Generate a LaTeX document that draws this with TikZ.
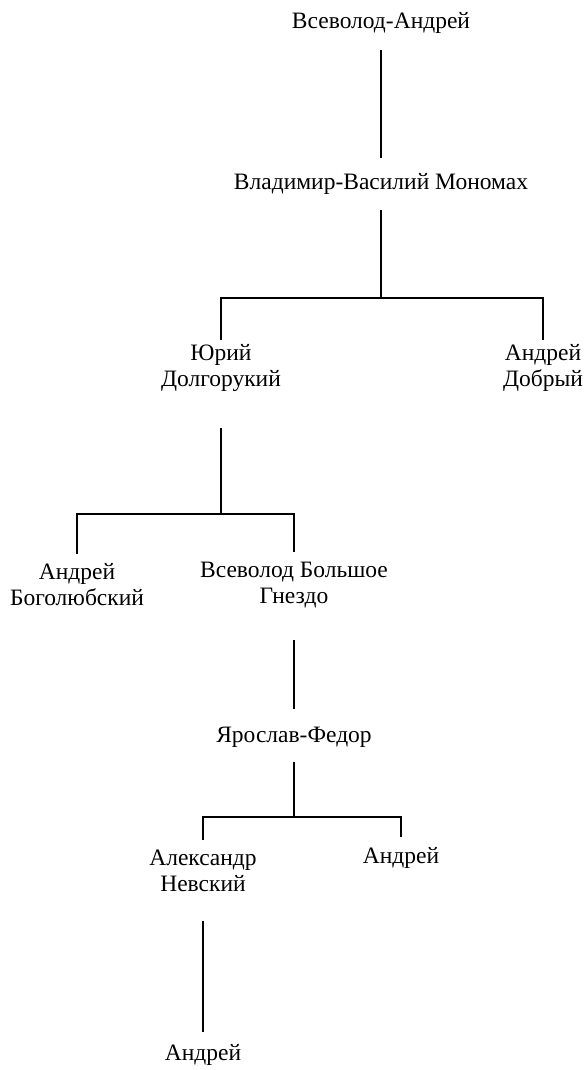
\documentclass[tikz,border=0pt]{standalone}
\usepackage{fontspec}
\setmainfont{Liberation Serif}

\tikzset{
	person/.style={inner sep=0pt, align=center, font=\fontsize{23.5pt}{26pt}\selectfont},
	link/.style={line width=1.5pt}
}

\begin{document}
\begin{tikzpicture}[x=1pt, y=-1pt]
		\useasboundingbox (0,0) rectangle (587,1070);
		\node[person] (vsev) at (381,23) {Всеволод-Андрей};
		\node[person] (vlad) at (381,184) {Владимир-Василий Мономах};
		\node[person] (yuri) at (221,368) {Юрий\\Долгорукий};
		\node[person] (dobr) at (543,368) {Андрей\\Добрый};
		\node[person] (bogo) at (77,585) {Андрей\\Боголюбский};
		\node[person] (gnezdo) at (294,585) {Всеволод Большое\\Гнездо};
		\node[person] (yaro) at (294,737) {Ярослав-Федор};
		\node[person] (alex) at (203,871) {Александр\\Невский};
		\node[person] (andr) at (401,858) {Андрей};
		\node[person] (andrson) at (203,1055) {Андрей};
		
		\coordinate (f1) at (381,298);
		\coordinate (f2) at (221,514);
		\coordinate (f3) at (294,817);
		
		\draw[link, shorten <=16pt, shorten >=15pt] (vsev.south) -- (vlad.north);
		\draw[link, shorten <=15pt] (vlad.south) -- (f1);
		\draw[link, shorten >=4pt] (f1) -| (yuri.north);
		\draw[link, shorten >=4pt] (f1) -| (dobr.north);
		\draw[link, shorten <=36pt] (yuri.south) -- (f2);
		\draw[link, shorten >=10pt] (f2) -| (bogo.north);
		\draw[link, shorten >=10pt] (f2) -| (gnezdo.north);
		\draw[link, shorten <=32pt, shorten >=18pt] (gnezdo.south) -- (yaro.north);
		\draw[link, shorten <=15pt] (yaro.south) -- (f3);
		\draw[link, shorten >=10pt] (f3) -| (alex.north);
		\draw[link, shorten >=10pt] (f3) -| (andr.north);
		\draw[link, shorten <=29pt, shorten >=12pt] (alex.south) -- (andrson.north);
	\end{tikzpicture}
\end{document}
